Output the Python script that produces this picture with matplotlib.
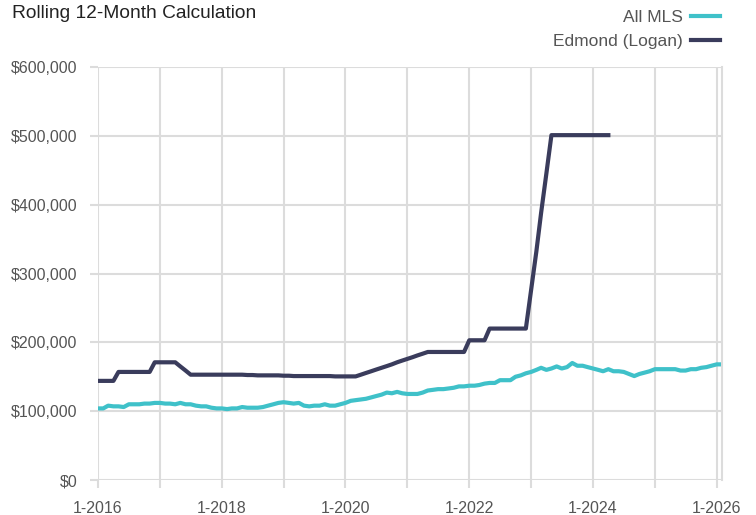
import matplotlib
matplotlib.use('Agg')
import matplotlib.pyplot as plt
import matplotlib.ticker as ticker
import pandas as pd

# monthly rolling 12-month values, in $1000s
all_mls = [104, 104, 108, 107, 107, 106, 110, 110, 110, 111,
           111, 112, 112, 111, 111, 110, 112, 110, 110, 108,
           107, 107, 105, 104, 104, 103, 104, 104, 106, 105,
           105, 105, 106, 108, 110, 112, 113, 112, 111, 112,
           108, 107, 108, 108, 110, 108, 108, 110, 112, 115,
           116, 117, 118, 120, 122, 124, 127, 126, 128, 126,
           125, 125, 125, 127, 130, 131, 132, 132, 133, 134,
           136, 136, 137, 137, 138, 140, 141, 141, 145, 145,
           145, 150, 152, 155, 157, 160, 163, 160, 162, 165,
           162, 164, 170, 166, 166, 164, 162, 160, 158, 161,
           158, 158, 157, 154, 151, 154, 156, 158, 161, 161,
           161, 161, 161, 159, 159, 161, 161, 163, 164, 166,
           168, 168]

edmond = [144, 144, 144, 144, 157, 157, 157, 157, 157, 157,
          157, 171, 171, 171, 171, 171, 165, 159, 153, 153,
          153, 153, 153, 153, 153, 153, 153, 153, 153, 152.5,
          152.5, 152, 152, 152, 152, 152, 151.5, 151.5, 151, 151,
          151, 151, 151, 151, 151, 151, 150.5, 150.5, 150.5, 150.5,
          150.5, 153, 155.5, 158, 160.5, 163, 165.5, 168, 171, 173.5,
          176, 178.5, 181, 183.5, 186, 186, 186, 186, 186, 186,
          186, 186, 203, 203, 203, 203, 220, 220, 220, 220,
          220, 220, 220, 220, 276, 332, 388, 445, 501, 501,
          501, 501, 501, 501, 501, 501, 501, 501, 501, 501]

months_mls = pd.date_range('2016-01-01', periods=len(all_mls), freq='MS')
months_edm = pd.date_range('2016-01-01', periods=len(edmond), freq='MS')

teal = '#3fc1c9'
navy = '#3a3c5c'
grid_c = '#dcdcdc'
txt_c = '#555555'

plt.rcParams['font.family'] = ['Liberation Sans', 'DejaVu Sans']

fig = plt.figure(figsize=(7.56, 5.15), dpi=100)
ax = fig.add_axes([98/756, 1-480/515, (722-98)/756, (480-67)/515])

ax.plot(months_mls, [v*1000 for v in all_mls], color=teal, lw=3.0, label='All MLS')
ax.plot(months_edm, [v*1000 for v in edmond], color=navy, lw=3.0, label='Edmond (Logan)')

ax.set_xlim(pd.Timestamp('2016-01-01'), pd.Timestamp('2026-02-01'))
ax.set_ylim(0, 600000)
ax.yaxis.set_major_locator(ticker.MultipleLocator(100000))
ax.yaxis.set_major_formatter(ticker.FuncFormatter(lambda v, p: '${:,.0f}'.format(v)))

years = list(range(2016, 2027))
ax.set_xticks([pd.Timestamp('%d-01-01' % y) for y in years])
ax.set_xticklabels(['1-%d' % y if y % 2 == 0 else '' for y in years])

ax.grid(True, color=grid_c, lw=1.5)
ax.set_axisbelow(True)
for s in ['left', 'top', 'bottom']:
    ax.spines[s].set_visible(False)
ax.spines['right'].set_color(grid_c)
ax.spines['right'].set_linewidth(1.5)
ax.tick_params(axis='both', colors=grid_c, width=1.5, length=6, labelcolor=txt_c, labelsize=11.5)
ax.tick_params(axis='x', pad=9)
ax.tick_params(axis='y', pad=9)

fig.text(12/756, 1-13/515, 'Rolling 12-Month Calculation', fontsize=13.8, color='#222222',
         ha='left', va='center')

leg = ax.legend(loc='upper right', bbox_to_anchor=(727/756, 1-3/515), bbox_transform=fig.transFigure,
                frameon=False, markerfirst=False, fontsize=12.5, labelcolor=txt_c,
                handlelength=1.7, handletextpad=0.45, labelspacing=0.5, borderaxespad=0)

fig.savefig('out.png', dpi=100)
